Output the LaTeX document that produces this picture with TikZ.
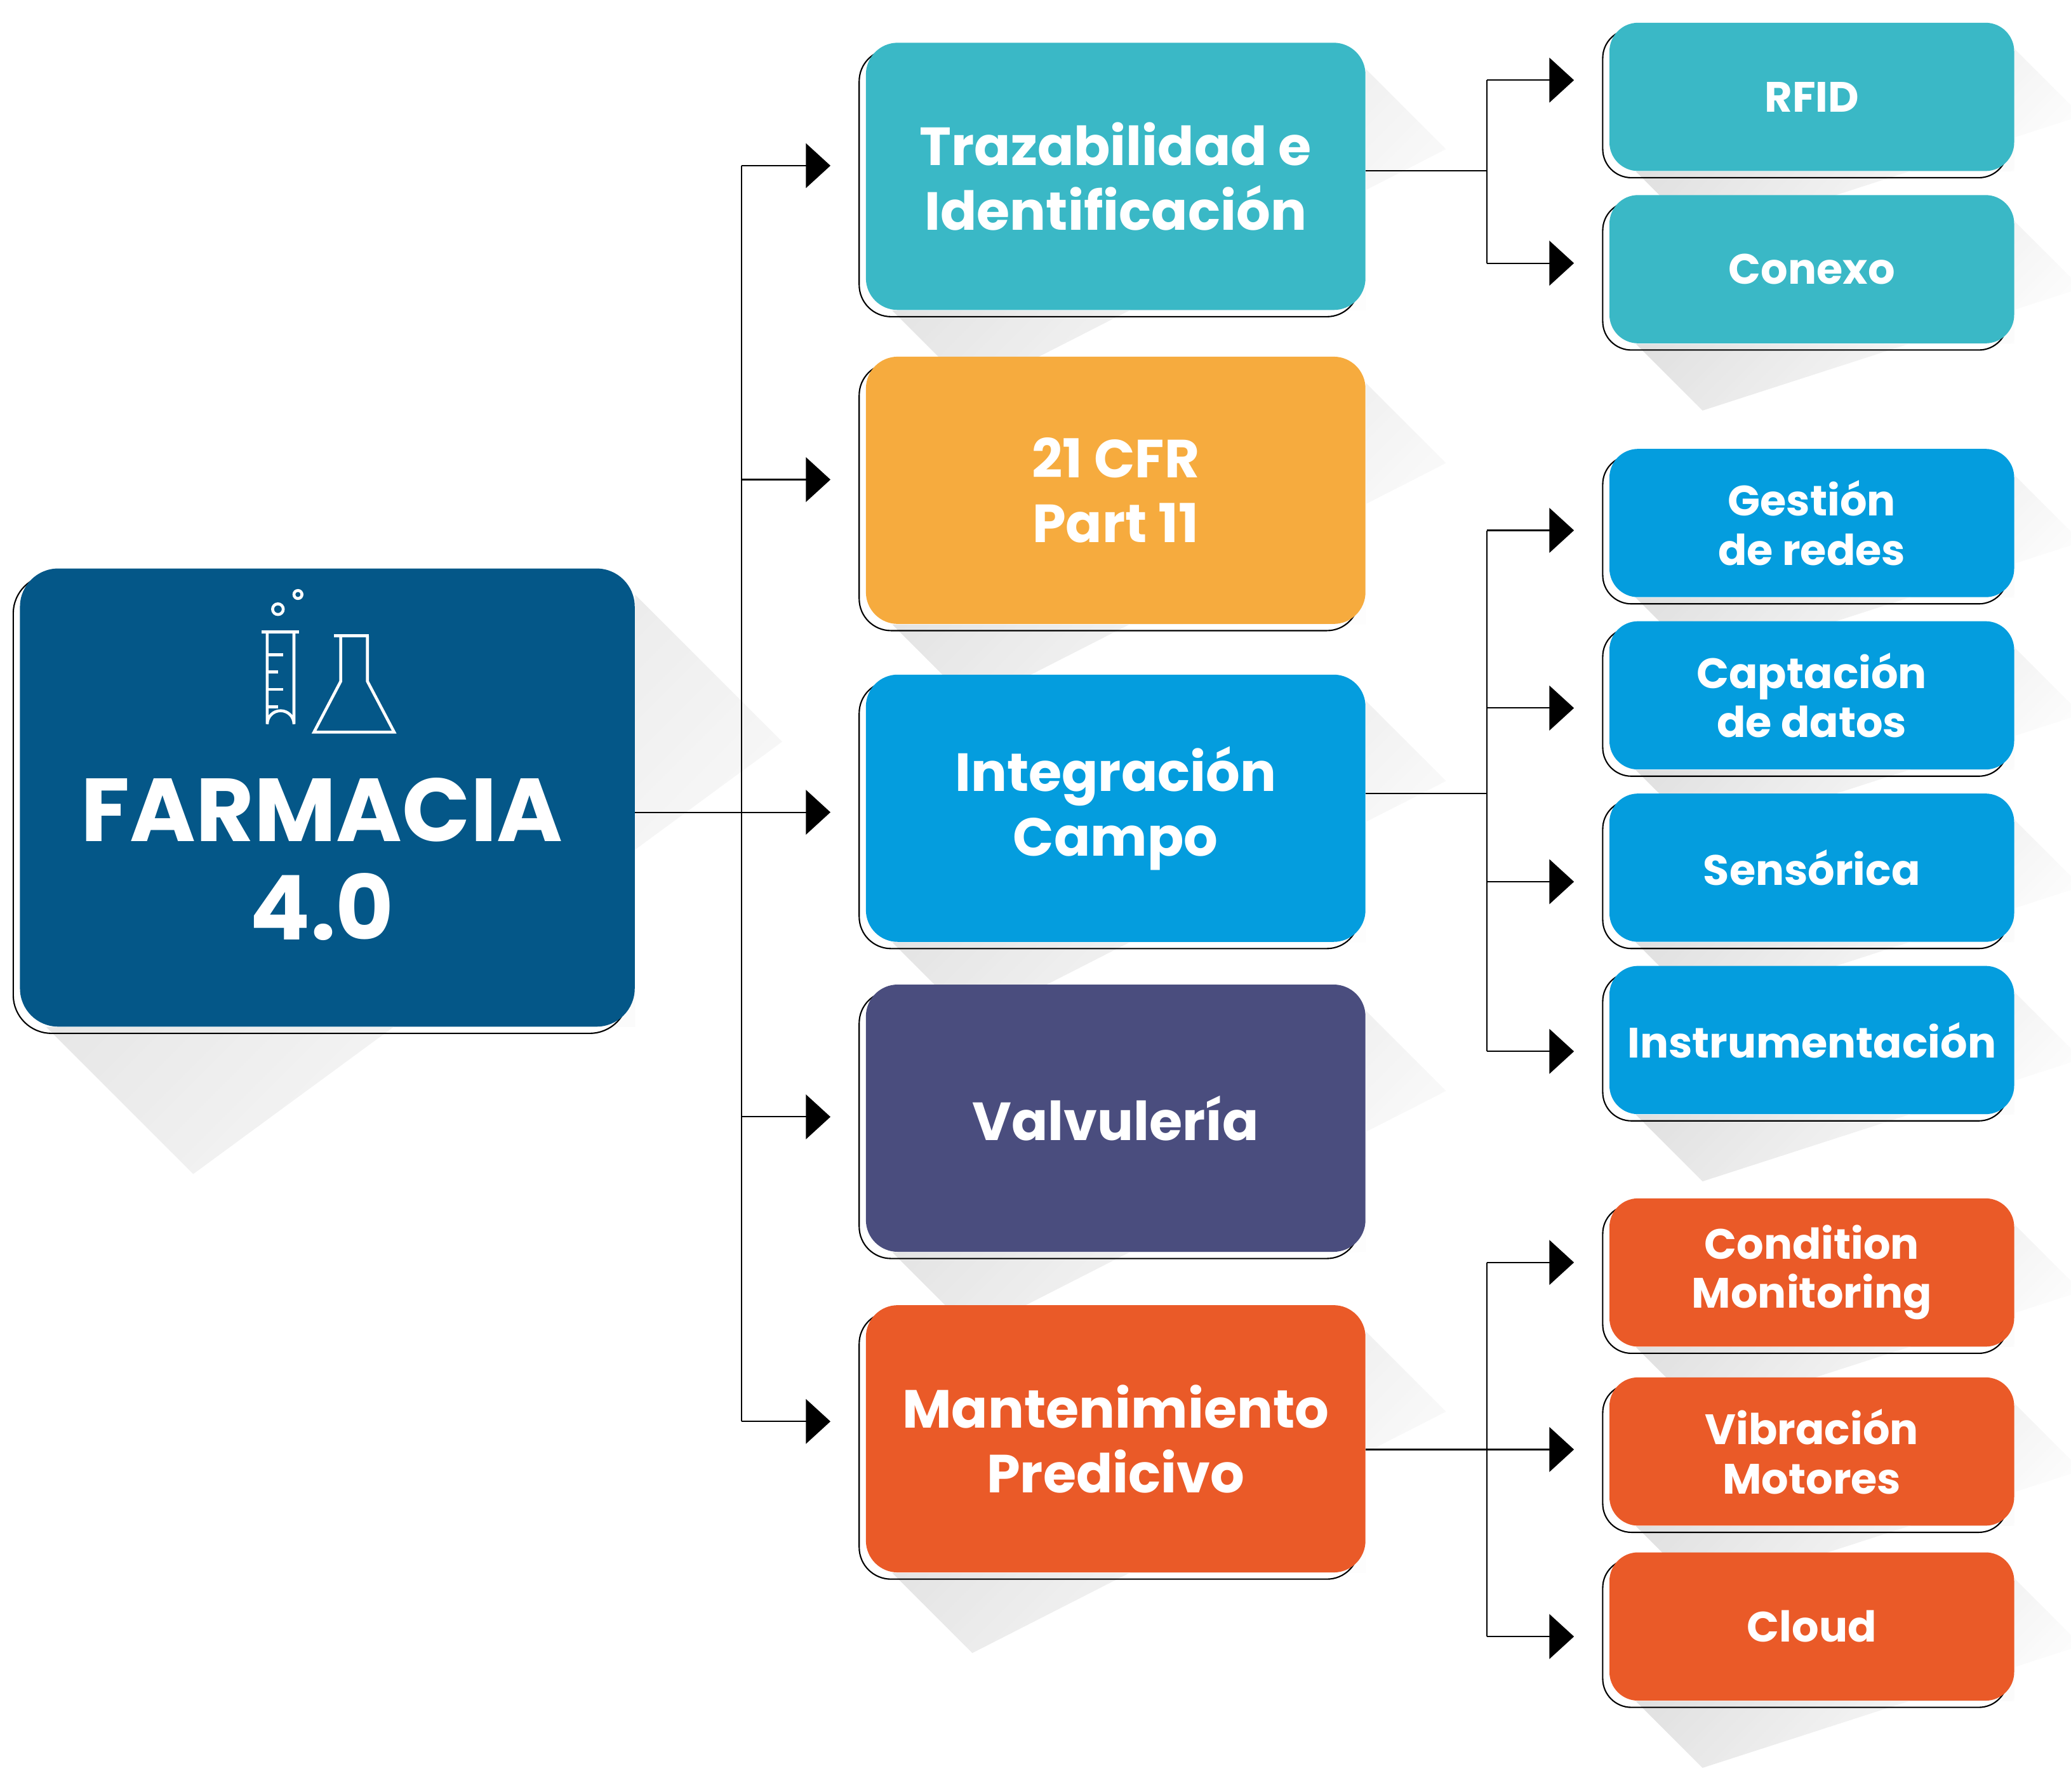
\documentclass[tikz,border=0pt]{standalone}
\usepackage{fontspec}
\setmainfont{Poppins}
\usetikzlibrary{arrows.meta, positioning, shadows, calc}
\definecolor{fmnavy}{HTML}{045788}
\definecolor{fmteal}{HTML}{3AB8C6}
\definecolor{fmorange}{HTML}{F6AB3E}
\definecolor{fmblue}{HTML}{049DDE}
\definecolor{fmpurple}{HTML}{4A4D7E}
\definecolor{fmred}{HTML}{EA5A28}

\newcommand{\boxshade}[2]{%
  \shade[top color=black!22, bottom color=white, shading angle=45, opacity=0.6]
    ($(#1.south west)+(20,0)$) -- ($(#1.south east)$) -- ($(#1.north east)+(0,20)$)
    -- ++(#2,#2) -- ($(#1.south west)+(20+#2,#2)$) -- cycle;}

\begin{document}
\begin{tikzpicture}[
  x=0.021cm, y=-0.021cm,
  every node/.style={text=white, font=\bfseries, align=center, inner sep=0pt},
  outline/.style={copy shadow={shadow xshift=-3pt, shadow yshift=-3pt, fill=none, draw=black, line width=0.6pt}},
  rootbox/.style={rectangle, rounded corners=0.6cm, fill=fmnavy, minimum width=9.66cm, minimum height=7.2cm, outline},
  midbox/.style={rectangle, rounded corners=0.5cm, minimum width=7.85cm, minimum height=4.2cm, outline, font=\fontsize{24}{29}\selectfont\bfseries},
  subbox/.style={rectangle, rounded corners=0.45cm, minimum width=6.36cm, minimum height=2.33cm, outline, font=\fontsize{19}{22}\selectfont\bfseries},
  link/.style={black, line width=0.6pt},
  arr/.style={link, -{Triangle[length=11pt, width=20pt]}, shorten >=0.55cm},
]
\useasboundingbox (0,0) rectangle (1550,1341);

% shadows first
\path (245,597) node[minimum width=9.66cm, minimum height=7.2cm] (rootsh) {};
\boxshade{rootsh}{110}
\foreach \y in {132,367,605,837,1077}
  {\path (835,\y) node[minimum width=7.85cm, minimum height=4.2cm] (msh) {}; \boxshade{msh}{60}}
\foreach \y in {72.5,201.5,391.5,520.5,649.5,778.5,952.5,1086.5,1217.5}
  {\path (1356,\y) node[minimum width=6.36cm, minimum height=2.33cm] (ssh) {}; \boxshade{ssh}{50}}

% root
\node[rootbox] (root) at (245,597) {};
\node[font=\fontsize{40}{44}\selectfont\bfseries] (roottxt) at (241,643) {FARMACIA\\4.0};
\begin{scope}[white, line width=1.3pt]
  \draw (196,473) -- (224,473);
  \draw (200,473) -- (200,542) arc[start angle=180, end angle=360, radius=10] -- (220,473);
  \draw (200,490) -- (212,490) (200,503) -- (208,503) (200,516) -- (212,516) (200,529) -- (208,529);
  \draw (250,476) -- (276,476);
  \draw (255,476) -- (255,510) -- (235,548) -- (295,548) -- (275,510) -- (275,476);
  \draw (208,456) circle[radius=4] (223,445) circle[radius=3];
\end{scope}

% middle column
\node[midbox, fill=fmteal] (traz) at (835,132) {Trazabilidad e\\Identificación};
\node[midbox, fill=fmorange] (cfr) at (835,367) {21 CFR\\Part 11};
\node[midbox, fill=fmblue] (integ) at (835,605) {Integración\\Campo};
\node[midbox, fill=fmpurple] (valv) at (835,837) {Valvulería};
\node[midbox, fill=fmred] (mant) at (835,1077) {Mantenimiento\\Predicivo};

% right column
\node[subbox, fill=fmteal] (rfid) at (1356,72.5) {RFID};
\node[subbox, fill=fmteal] (conexo) at (1356,201.5) {Conexo};
\node[subbox, fill=fmblue] (redes) at (1356,391.5) {Gestión\\de redes};
\node[subbox, fill=fmblue] (datos) at (1356,520.5) {Captación\\de datos};
\node[subbox, fill=fmblue] (senso) at (1356,649.5) {Sensórica};
\node[subbox, fill=fmblue] (instr) at (1356,778.5) {Instrumentación};
\node[subbox, fill=fmred] (cond) at (1356,952.5) {Condition\\Monitoring};
\node[subbox, fill=fmred] (vibr) at (1356,1086.5) {Vibración\\Motores};
\node[subbox, fill=fmred] (cloud) at (1356,1217.5) {Cloud};

% trunk from root
\coordinate (t0) at (555,608);
\coordinate (t1) at (555,124);
\coordinate (t2) at (555,359);
\coordinate (t4) at (555,836);
\coordinate (t5) at (555,1064);
\draw[link] (root.east |- t0) -- (t0);
\draw[link] (t1) -- (t5);
\draw[arr] (t1) -- (traz.west |- t1);
\draw[arr] (t2) -- (cfr.west |- t2);
\draw[arr] (t0) -- (integ.west |- t0);
\draw[arr] (t4) -- (valv.west |- t4);
\draw[arr] (t5) -- (mant.west |- t5);

% branches
\coordinate (a0) at (1113,128);
\coordinate (a1) at (1113,60);
\coordinate (a2) at (1113,197);
\draw[link] (traz.east |- a0) -- (a0);
\draw[link] (a1) -- (a2);
\draw[arr] (a1) -- (rfid.west |- a1);
\draw[arr] (a2) -- (conexo.west |- a2);

\coordinate (b0) at (1113,594);
\coordinate (b1) at (1113,397);
\coordinate (b2) at (1113,530);
\coordinate (b3) at (1113,660);
\coordinate (b4) at (1113,787);
\draw[link] (integ.east |- b0) -- (b0);
\draw[link] (b1) -- (b4);
\draw[arr] (b1) -- (redes.west |- b1);
\draw[arr] (b2) -- (datos.west |- b2);
\draw[arr] (b3) -- (senso.west |- b3);
\draw[arr] (b4) -- (instr.west |- b4);

\coordinate (c0) at (1113,1085);
\coordinate (c1) at (1113,945);
\coordinate (c3) at (1113,1225);
\draw[link] (mant.east |- c0) -- (c0);
\draw[link] (c1) -- (c3);
\draw[arr] (c1) -- (cond.west |- c1);
\draw[arr] (c0) -- (vibr.west |- c0);
\draw[arr] (c3) -- (cloud.west |- c3);
\end{tikzpicture}
\end{document}
